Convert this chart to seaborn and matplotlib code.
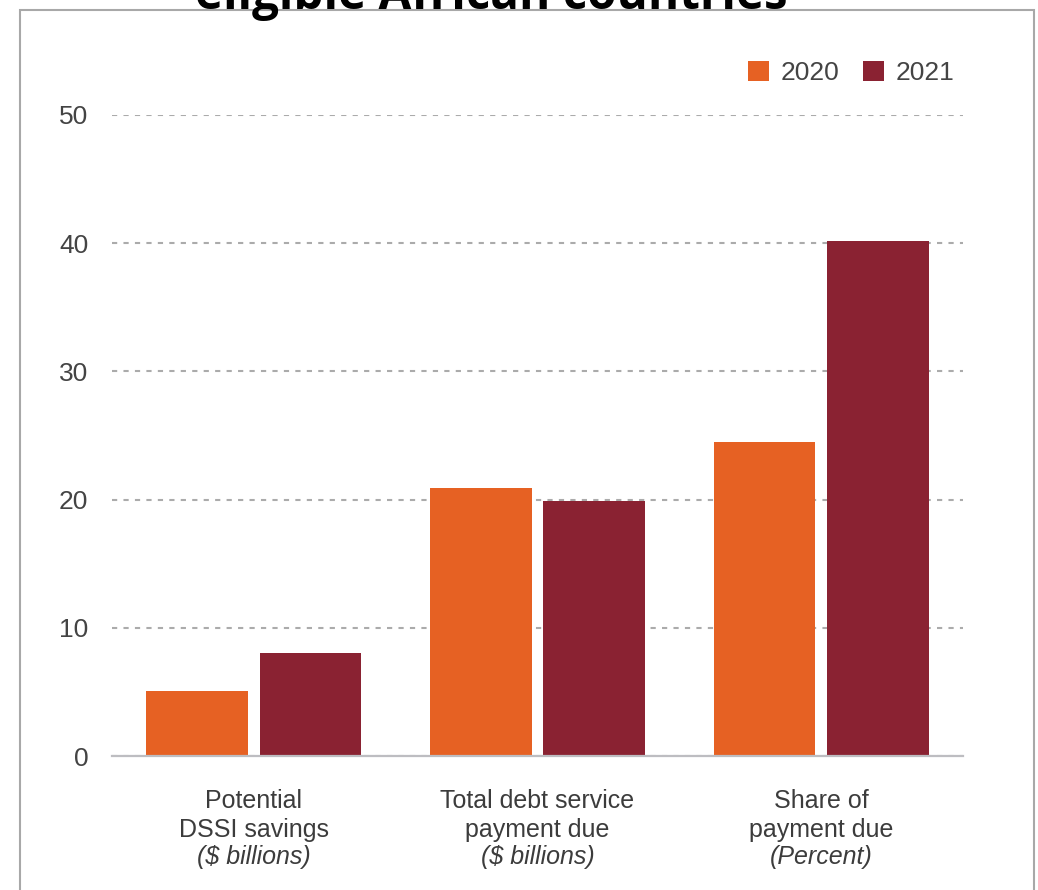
import matplotlib
matplotlib.use("Agg")
import matplotlib.pyplot as plt
import matplotlib.transforms as mtransforms
from matplotlib.patches import Patch, Rectangle
import seaborn as sns
import pandas as pd

# ---- data ----
categories = ["Potential\nDSSI savings", "Total debt service\npayment due", "Share of\npayment due"]
units = ["(\\$ billions)", "(\\$ billions)", "(Percent)"]
years = ["2020", "2021"]
values_2020 = [5.1, 20.9, 24.5]
values_2021 = [8.0, 19.9, 40.2]
y_ticks = [0, 10, 20, 30, 40, 50]
title_text = "eligible African countries"
colors = ["#E66123", "#8A2232"]

sns.set_theme(style="white")
plt.rcParams['font.family'] = ['Liberation Sans', 'DejaVu Sans']

W, H = 1038, 890
fig = plt.figure(figsize=(W / 100, H / 100), dpi=100)
ax = fig.add_axes([112 / W, 1 - 756 / H, (963 - 112) / W, (756 - 115) / H])

df = pd.DataFrame({
    "category": categories * 2,
    "year": [years[0]] * len(categories) + [years[1]] * len(categories),
    "value": values_2020 + values_2021,
})
sns.barplot(data=df, x="category", y="value", hue="year", order=categories,
            hue_order=years, palette=colors, saturation=1, width=0.8, gap=0.105,
            legend=False, ax=ax, linewidth=0, errorbar=None)

ax.set_xlim(-0.5, 2.5)
ax.set_ylim(0, 50)
ax.set_yticks(y_ticks)
ax.set_yticklabels([str(t) for t in y_ticks])
ax.tick_params(axis='y', length=0, pad=17, labelsize=19, colors='#444444')
ax.set_xticks(range(len(categories)))
ax.set_xticklabels([''] * len(categories))
ax.tick_params(axis='x', length=0)
ax.set_xlabel('')
ax.set_ylabel('')
for s in ['left', 'right', 'top']:
    ax.spines[s].set_visible(False)
ax.spines['bottom'].set_color('#bdbdc1')
ax.spines['bottom'].set_linewidth(1.6)
ax.yaxis.grid(True, color='#ababab', linestyle=(0, (2.5, 3)), linewidth=1.5)
ax.xaxis.grid(False)
ax.set_axisbelow(True)

# category labels
trans = mtransforms.blended_transform_factory(ax.transData, fig.transFigure)
baselines = [808, 837, 864]
for i, (cat, unit) in enumerate(zip(categories, units)):
    lines = cat.split("\n")
    for j, ln in enumerate(lines):
        ax.text(i, 1 - baselines[j] / H, ln, transform=trans, ha='center', va='baseline',
                fontsize=18, color='#3c3c3c')
    ax.text(i, 1 - baselines[2] / H, unit, transform=trans, ha='center', va='baseline',
            fontsize=18, color='#3c3c3c', style='italic')

# legend
handles = [Patch(facecolor=c, edgecolor='none', label=y) for c, y in zip(colors, years)]
fig.legend(handles=handles, loc='center left', bbox_to_anchor=(748 / W, 1 - 73 / H),
           ncol=2, frameon=False, fontsize=19, handlelength=0.8, handleheight=0.8,
           handletextpad=0.42, columnspacing=0.92, borderpad=0, borderaxespad=0,
           labelcolor='#444444')

# frame
fig.patches.append(Rectangle((20 / W, -0.1), (1034 - 20) / W, 1.1 - 10 / H,
                             transform=fig.transFigure, fill=False,
                             edgecolor='#a8a8a8', linewidth=1.5))

# title (cut off at top, as in the source image)
t = fig.text(491.5 / W, 1 - 9 / H, title_text, ha='center', va='baseline',
             fontweight='bold', fontsize=30, color='black',
             family=['Open Sans', 'DejaVu Sans'])
fig.canvas.draw()
w = t.get_window_extent().width
t.set_fontsize(30 * 593 / w)

fig.savefig("out.png", dpi=100)
